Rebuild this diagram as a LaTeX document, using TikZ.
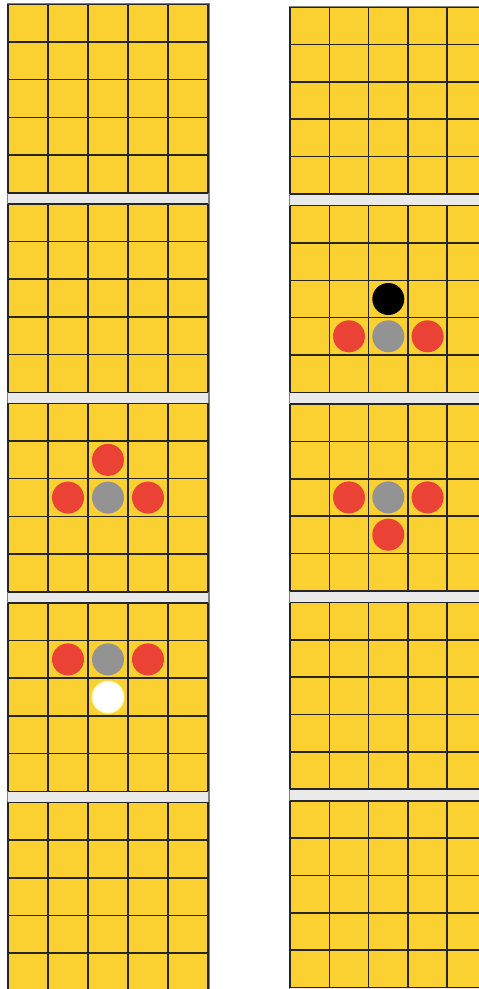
\documentclass[tikz,border=0pt]{standalone}
\definecolor{boardyellow}{HTML}{FAD131}
\definecolor{stonered}{HTML}{EA4335}
\definecolor{stonegrey}{HTML}{939393}
\definecolor{gapgrey}{HTML}{EAEAEA}
\begin{document}
\begin{tikzpicture}[x=0.1mm, y=-0.1mm,
    column/.style={fill=gapgrey, draw=black!50, line width=0.5pt},
    cellline/.style={draw=black!85, line width=0.45pt},
    stone/.style={circle, minimum size=3.2mm, inner sep=0pt},
    redstone/.style={stone, fill=stonered},
    greystone/.style={stone, fill=stonegrey},
    blackstone/.style={stone, fill=black},
    whitestone/.style={stone, fill=white, draw=yellow!40, line width=0.3pt}
]
\useasboundingbox (0,0) rectangle (479,989);
\clip (0,0) rectangle (479,989);

% two columns of boards
\draw[column] (7.5,3.5) rectangle (209,995);
\draw[column] (289.5,6.5) rectangle (490,995);

\foreach \k in {0,...,4} {
  \begin{scope}[shift={(8,4.3+199.5*\k)}]
    \fill[boardyellow] (0,0) rectangle (200,188.5);
    \foreach \i in {0,...,5} \draw[cellline] (40*\i,0) -- (40*\i,188.5);
    \foreach \j in {0,...,5} \draw[cellline] (0,37.7*\j) -- (200,37.7*\j);
  \end{scope}
  \begin{scope}[shift={(290,7.3+198.4*\k)}]
    \fill[boardyellow] (0,0) rectangle (196.5,186.6);
    \foreach \i in {0,...,5} \draw[cellline] (39.3*\i,0) -- (39.3*\i,186.6);
    \foreach \j in {0,...,5} \draw[cellline] (0,37.32*\j) -- (196.5,37.32*\j);
  \end{scope}
}

% left column, third board
\node[redstone] (l3top) at (108,459.9) {};
\node[redstone] (l3left) at (68,497.6) {};
\node[greystone] (l3mid) at (108,497.6) {};
\node[redstone] (l3right) at (148,497.6) {};

% left column, fourth board
\node[redstone] (l4left) at (68,659.4) {};
\node[greystone] (l4mid) at (108,659.4) {};
\node[redstone] (l4right) at (148,659.4) {};
\node[whitestone] (l4down) at (108,697.1) {};

% right column, second board
\node[blackstone] (r2top) at (388.3,299) {};
\node[redstone] (r2left) at (349,336.3) {};
\node[greystone] (r2mid) at (388.3,336.3) {};
\node[redstone] (r2right) at (427.6,336.3) {};

% right column, third board
\node[redstone] (r3left) at (349,497.4) {};
\node[greystone] (r3mid) at (388.3,497.4) {};
\node[redstone] (r3right) at (427.6,497.4) {};
\node[redstone] (r3down) at (388.3,534.7) {};
\end{tikzpicture}
\end{document}
